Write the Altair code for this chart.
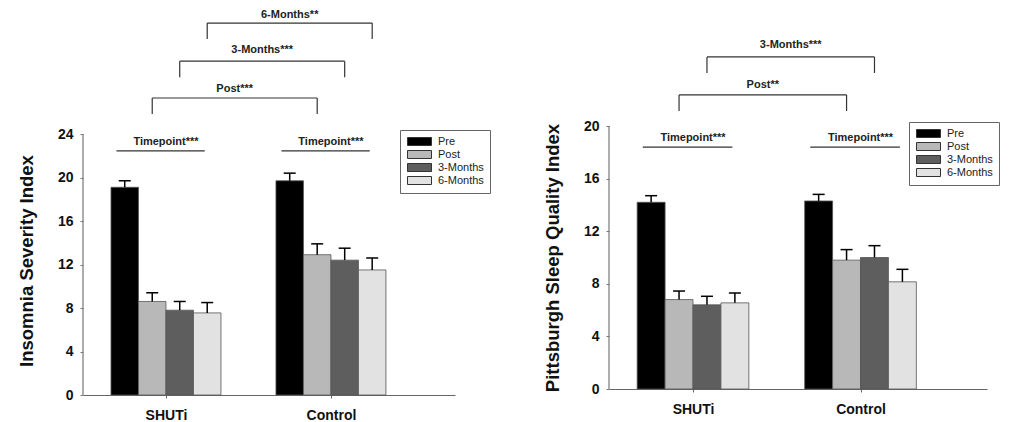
import json
import altair as alt
import pandas as pd

# ---------------- data ----------------
timepoints = ["Pre", "Post", "3-Months", "6-Months"]
groups = ["SHUTi", "Control"]
colors = ["#000000", "#b8b8b8", "#5e5e5e", "#e2e2e2"]

isi_shuti = [19.1, 8.6, 7.8, 7.55]
isi_control = [19.7, 12.9, 12.4, 11.5]
isi_shuti_err = [0.6, 0.8, 0.8, 0.95]
isi_control_err = [0.7, 1.0, 1.1, 1.1]

psqi_shuti = [14.2, 6.8, 6.4, 6.55]
psqi_control = [14.3, 9.8, 10.0, 8.15]
psqi_shuti_err = [0.5, 0.65, 0.65, 0.75]
psqi_control_err = [0.5, 0.8, 0.9, 0.95]

isi_ticks = [0, 4, 8, 12, 16, 20, 24]
psqi_ticks = [0, 4, 8, 12, 16, 20]

isi_title = "Insomnia Severity Index"
psqi_title = "Pittsburgh Sleep Quality Index"

isi_brackets = [("Post***", "Post"), ("3-Months***", "3-Months"), ("6-Months**", "6-Months")]
psqi_brackets = [("Post**", "Post"), ("3-Months***", "3-Months")]
timepoint_label = "Timepoint***"

# ---------------- layout ----------------
BW = 1 / 6          # bar width in group units
FONT = "Liberation Sans"

isi_layout = dict(xdom=[-0.503, 1.752], ydom=[0, 24.736], width=372, height=269,
                  ppu=10.875, levels=[27.31, 30.7, 34.2], gaps=[9, 11, 8.5], tp_y=22.44,
                  legend_x=317, legend_y=4, axis_top=24)
psqi_layout = dict(xdom=[-0.5015, 1.755], ydom=[0, 20], width=378, height=263,
                   ppu=13.15, levels=[22.36, 25.25], gaps=[10, 12], tp_y=18.4,
                   legend_x=300, legend_y=-4, axis_top=20)


def panel(vals, errs, ticks, ytitle, brackets, L):
    ppu = L["ppu"]
    cap = 12 / (L["width"] / (L["xdom"][1] - L["xdom"][0]))
    rows = []
    for gi, g in enumerate(groups):
        for ti, t in enumerate(timepoints):
            xc = gi + (ti - 1.5) * BW
            m = vals[g][ti]
            e = errs[g][ti]
            rows.append(dict(group=g, timepoint=t, x0=xc - BW / 2, x1=xc + BW / 2,
                             xc=xc, mean=m, base=0.0, top=m + e,
                             c0=xc - cap / 2, c1=xc + cap / 2))
    df = pd.DataFrame(rows)

    xs = alt.Scale(domain=L["xdom"], nice=False, zero=False)
    ys = alt.Scale(domain=L["ydom"], nice=False, zero=False)

    xaxis = alt.Axis(values=[0, 1], labelExpr=json.dumps(groups) + "[round(datum.value)]",
                     domain=True, domainColor="#666", domainWidth=1.2,
                     ticks=True, tickSize=3, tickColor="#666", labelFlush=False,
                     labelFont=FONT, labelFontSize=14, labelFontWeight="bold",
                     labelColor="#111", labelPadding=10, grid=False)
    yaxis = alt.Axis(values=ticks, domain=False, ticks=True, tickSize=3,
                     tickColor="#777", labelFont=FONT, labelFontSize=14,
                     labelFontWeight="bold", labelColor="#111", labelPadding=7,
                     titleFont=FONT, titleFontSize=18.5,
                     titleFontWeight="bold", titleColor="#111", titlePadding=20.5,
                     grid=False)

    leg = alt.Legend(title=None, orient="none", legendX=L["legend_x"], legendY=L["legend_y"],
                     symbolType="M-1,-1H5V1H-1Z", symbolSize=64,
                     symbolStrokeColor="#333", symbolStrokeWidth=1,
                     labelFont=FONT, labelFontSize=11, labelColor="#222",
                     labelOffset=21, rowPadding=0, padding=6,
                     strokeColor="#666", fillColor="white", cornerRadius=0)

    X = lambda f: alt.X(f, title=None)
    Y = lambda f: alt.Y(f, title=ytitle)

    bars = alt.Chart(df).mark_rect(stroke="#555", strokeWidth=0.8).encode(
        x=alt.X("x0:Q", scale=xs, axis=xaxis, title=None),
        x2="x1:Q",
        y=alt.Y("mean:Q", scale=ys, axis=yaxis, title=ytitle),
        y2="base:Q",
        color=alt.Color("timepoint:N", scale=alt.Scale(domain=timepoints, range=colors),
                        legend=leg),
    )
    err = alt.Chart(df).mark_rule(color="black", strokeWidth=1.5).encode(
        x=X("xc:Q"), y=Y("mean:Q"), y2="top:Q")
    caps = alt.Chart(df).mark_rule(color="black", strokeWidth=1.5).encode(
        x=X("c0:Q"), x2="c1:Q", y=Y("top:Q"))

    # annotation segments
    drop = 16 / ppu
    segs, labels = [], []
    for (lab, tp), lvl, g in zip(brackets, L["levels"], L["gaps"]):
        ti = timepoints.index(tp)
        xa = 0 + (ti - 1.5) * BW
        xb = 1 + (ti - 1.5) * BW
        segs.append(dict(x=xa, x2=xb, y=lvl, y2=lvl))
        segs.append(dict(x=xa, x2=xa, y=lvl, y2=lvl - drop))
        segs.append(dict(x=xb, x2=xb, y=lvl, y2=lvl - drop))
        labels.append(dict(x=(xa + xb) / 2, y=lvl + g / ppu, text=lab))
    for gi, g in enumerate(groups):
        segs.append(dict(x=gi - 0.30, x2=gi + 0.235, y=L["tp_y"], y2=L["tp_y"]))
        labels.append(dict(x=gi + 0.0, y=L["tp_y"] + 9 / ppu, text=timepoint_label))
    seg_df = pd.DataFrame(segs)
    lab_df = pd.DataFrame(labels)

    seg = alt.Chart(seg_df).mark_rule(color="#333", strokeWidth=1.2).encode(
        x=X("x:Q"), x2="x2:Q", y=Y("y:Q"), y2="y2:Q")
    txt = alt.Chart(lab_df).mark_text(font=FONT, fontSize=11, fontWeight="bold",
                                      color="#222", align="center", baseline="middle").encode(
        x=X("x:Q"), y=Y("y:Q"), text="text:N")

    axis_df = pd.DataFrame([dict(x=L["xdom"][0], y=0.0, y2=float(L["axis_top"]))])
    yline = alt.Chart(axis_df).mark_rule(color="#777", strokeWidth=1.2).encode(
        x=X("x:Q"), y=Y("y:Q"), y2="y2:Q")

    return alt.layer(bars, err, caps, seg, txt, yline).properties(
        width=L["width"], height=L["height"])


left = panel({"SHUTi": isi_shuti, "Control": isi_control},
             {"SHUTi": isi_shuti_err, "Control": isi_control_err},
             isi_ticks, isi_title, isi_brackets, isi_layout)
right = panel({"SHUTi": psqi_shuti, "Control": psqi_control},
              {"SHUTi": psqi_shuti_err, "Control": psqi_control_err},
              psqi_ticks, psqi_title, psqi_brackets, psqi_layout)

chart = alt.hconcat(left, right, spacing=154, bounds="flush").resolve_scale(
    color="independent").resolve_legend(color="independent").properties(
    padding={"left": 9, "top": 0, "right": 0, "bottom": 0}
).configure_view(stroke=None)

chart.save("out.html", embed_options={"renderer": "svg", "actions": False})
